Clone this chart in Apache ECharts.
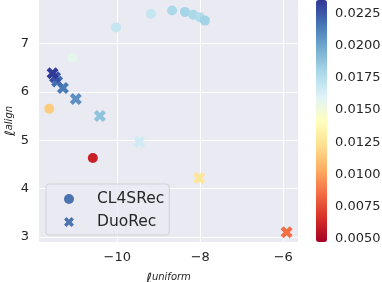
<!DOCTYPE html>
<html><head><meta charset="utf-8">
<script src="https://cdn.jsdelivr.net/npm/echarts@6/dist/echarts.min.js"></script>
<style>html,body{margin:0;padding:0;background:#fff}#c{width:382px;height:282px}</style>
</head><body><div id="c"></div>
<script>
// ---- data ----
const cl4Uniform = [-11.64, -11.08, -10.03, -9.19, -8.68, -8.17, -8.01, -7.89, -8.37, -10.59];
const cl4Align   = [5.65, 6.71, 7.33, 7.61, 7.68, 7.59, 7.54, 7.47, 7.65, 4.63];
const cl4Value   = [0.0115, 0.0157, 0.0170, 0.0170, 0.0179, 0.0179, 0.0177, 0.0182, 0.0181, 0.0060];

const duoUniform = [-5.92, -8.03, -9.47, -10.42, -11.00, -11.31, -11.45, -11.50, -11.56];
const duoAlign   = [3.10, 4.22, 4.96, 5.50, 5.85, 6.08, 6.21, 6.30, 6.38];
const duoValue   = [0.0085, 0.0126, 0.0166, 0.0189, 0.0208, 0.0215, 0.0219, 0.0228, 0.0235];

const xTicks = [-10, -8, -6];
const yTicks = [3, 4, 5, 6, 7];
const cbTicks = [0.0050, 0.0075, 0.0100, 0.0125, 0.0150, 0.0175, 0.0200, 0.0225];
const seriesNames = ['CL4SRec', 'DuoRec'];

// ---- axis extents ----
const xMin = -11.887, xMax = -5.646;
const yMin = 2.896, yMax = 7.896;
const cbMin = 0.0047, cbMax = 0.0236;

const RdYlBu = ['#a50026','#d73027','#f46d43','#fdae61','#fee090','#ffffbf','#e0f3f8','#abd9e9','#74add1','#4575b4','#313695'];
const xPath = 'path://M0,3L3,0L6,3L9,0L12,3L9,6L12,9L9,12L6,9L3,12L0,9L3,6Z';
const ink = '#262626';
const fmtMinus = v => String(v).replace('-', '\u2212');

const zip = (a, b, c) => a.map((v, i) => [v, b[i], c[i]]);

const chart = echarts.init(document.getElementById('c'), null, {renderer: 'canvas'});
const nameRich = {
  l: {fontSize: 14, fontStyle: 'italic', color: ink, lineHeight: 14, verticalAlign: 'top', fontFamily: 'DejaVu Sans'},
  s: {fontSize: 10, fontStyle: 'italic', color: ink, lineHeight: 22, verticalAlign: 'top', fontFamily: 'DejaVu Sans'}
};
const option = {
  animation: false,
  backgroundColor: '#ffffff',
  textStyle: {fontFamily: 'DejaVu Sans'},
  grid: [
    {left: 39, top: 0, width: 259, height: 242, show: true, backgroundColor: '#eaeaf2', borderWidth: 0,
     containLabel: false, outerBoundsMode: 'none'},
    {left: 316, top: 0, width: 11, height: 242, show: false, containLabel: false, outerBoundsMode: 'none'}
  ],
  xAxis: [
    {type: 'value', gridIndex: 0, min: xMin, max: xMax,
     axisLine: {show: false}, axisTick: {show: false, customValues: xTicks},
     axisLabel: {customValues: xTicks, formatter: fmtMinus, color: ink, fontSize: 13, margin: 9},
     splitLine: {show: true, lineStyle: {color: '#ffffff', width: 1}},
     name: '{l|ℓ}{s|uniform}', nameLocation: 'middle', nameGap: 30, nameMoveOverlap: false,
     nameTextStyle: {rich: nameRich}},
    {type: 'value', gridIndex: 1, show: false, min: 0, max: 1}
  ],
  yAxis: [
    {type: 'value', gridIndex: 0, min: yMin, max: yMax,
     axisLine: {show: false}, axisTick: {show: false, customValues: yTicks},
     axisLabel: {customValues: yTicks, color: ink, fontSize: 13, margin: 10},
     splitLine: {show: true, lineStyle: {color: '#ffffff', width: 1}},
     name: '{l|ℓ}{s|align}', nameLocation: 'middle', nameGap: 13, nameMoveOverlap: false,
     nameTextStyle: {rich: nameRich}},
    {type: 'value', gridIndex: 1, position: 'right', min: cbMin, max: cbMax,
     axisLine: {show: false},
     axisTick: {show: true, length: 4, customValues: cbTicks, lineStyle: {color: ink, width: 1}},
     axisLabel: {customValues: cbTicks, color: ink, fontSize: 13, margin: 8, formatter: v => v.toFixed(4)},
     splitLine: {show: false}}
  ],
  visualMap: {
    type: 'continuous', min: cbMin, max: cbMax, dimension: 2, seriesIndex: [0, 1],
    inRange: {color: RdYlBu}, left: 316, top: 0, itemWidth: 11, itemHeight: 242,
    padding: 0, calculable: false, hoverLink: false, orient: 'vertical'
  },
  legend: {
    orient: 'vertical', left: 46, top: 184, padding: [6, 5, 4, 18], itemGap: 5,
    itemWidth: 20, itemHeight: 10,
    backgroundColor: 'rgba(234,234,242,0.8)', borderColor: 'rgba(204,204,204,0.8)', borderWidth: 1, borderRadius: 3,
    textStyle: {fontSize: 15.5, color: ink, padding: [0, 0, 0, 13], lineHeight: 18},
    data: [
      {name: seriesNames[0], icon: 'circle', itemStyle: {color: '#4c72b0'}},
      {name: seriesNames[1], icon: xPath, itemStyle: {color: '#4c72b0'}}
    ]
  },
  series: [
    {name: seriesNames[0], type: 'scatter', xAxisIndex: 0, yAxisIndex: 0, symbol: 'circle', symbolSize: 10,
     itemStyle: {color: '#4c72b0', opacity: 1}, data: zip(cl4Uniform, cl4Align, cl4Value)},
    {name: seriesNames[1], type: 'scatter', xAxisIndex: 0, yAxisIndex: 0, symbol: xPath, symbolSize: 12,
     itemStyle: {color: '#4c72b0', opacity: 1}, data: zip(duoUniform, duoAlign, duoValue)}
  ]
};
chart.setOption(option);
</script>
</body></html>
